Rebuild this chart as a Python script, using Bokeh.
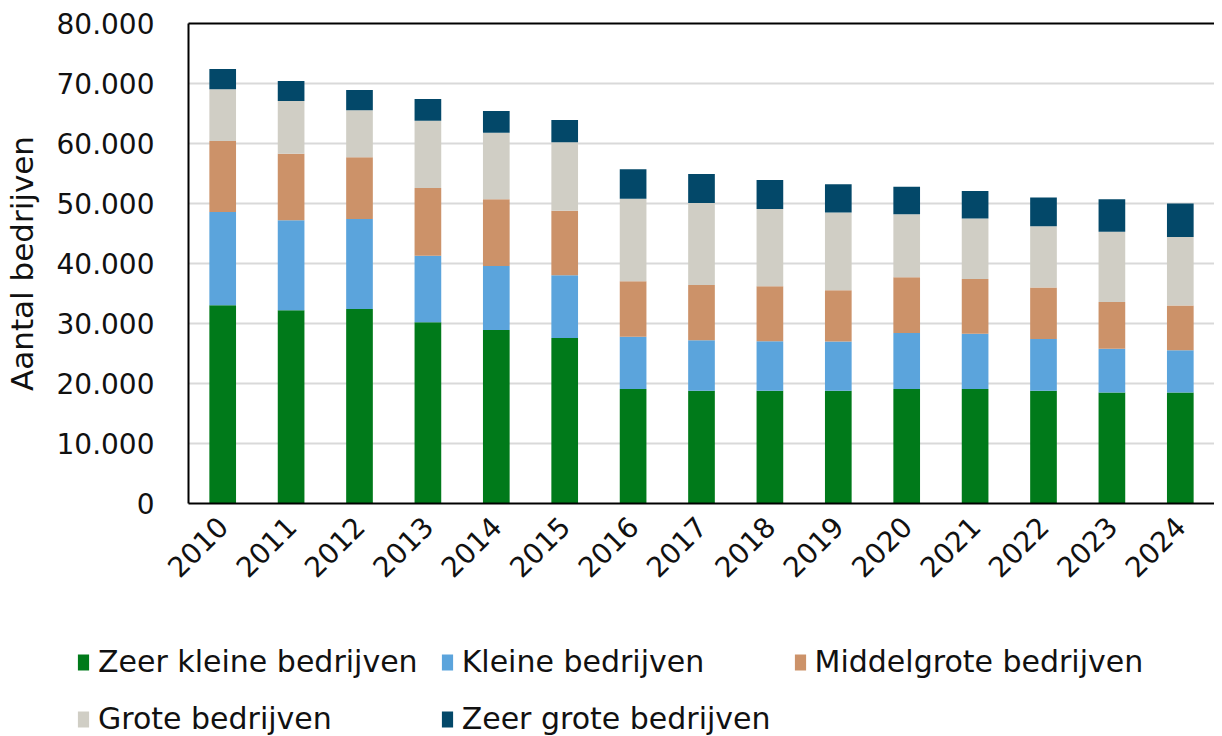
import math
from bokeh.plotting import figure
from bokeh.models import (ColumnDataSource, FactorRange, Range1d, Legend, LegendItem,
                          LinearAxis, CustomJSTickFormatter, FixedTicker)
from bokeh.embed import file_html
from bokeh.resources import INLINE

years = [str(y) for y in range(2010, 2025)]
zeer_klein = [33050, 32200, 32400, 30200, 28900, 27600, 19100, 18800, 18800, 18800, 19100, 19100, 18800, 18500, 18500]
klein = [15550, 15000, 15000, 11100, 10700, 10450, 8700, 8400, 8250, 8200, 9300, 9200, 8600, 7300, 7050]
middelgroot = [11800, 11100, 10300, 11300, 11100, 10750, 9250, 9200, 9150, 8550, 9300, 9100, 8600, 7800, 7450]
groot = [8650, 8800, 7850, 11200, 11100, 11400, 13750, 13700, 12900, 12950, 10500, 10100, 10200, 11700, 11400]
zeer_groot = [3350, 3300, 3350, 3600, 3600, 3700, 4900, 4800, 4800, 4700, 4600, 4600, 4800, 5400, 5600]

series = ["Zeer kleine bedrijven", "Kleine bedrijven", "Middelgrote bedrijven",
          "Grote bedrijven", "Zeer grote bedrijven"]
keys = ["zk", "k", "m", "g", "zg"]
colors = ["#007a1a", "#5ba4dc", "#cc9269", "#d0cec5", "#034869"]
y_ticks = [0, 10000, 20000, 30000, 40000, 50000, 60000, 70000, 80000]

src = ColumnDataSource(dict(year=years, zk=zeer_klein, k=klein, m=middelgroot, g=groot, zg=zeer_groot))

FONT = "DejaVu Sans"
TXT = "#111111"

p = figure(x_range=FactorRange(factors=years, range_padding=0), y_range=Range1d(0, 80000),
           width=1214, height=630, output_backend="svg", toolbar_location=None,
           min_border_left=182, min_border_right=0, min_border_top=23, min_border_bottom=127)
p.outline_line_color = None
p.background_fill_color = "white"

rs = p.vbar_stack(keys, x="year", width=0.39, color=colors, line_color=None, source=src)

p.xgrid.grid_line_color = None
p.ygrid.grid_line_color = "#d9d9d9"
p.ygrid.grid_line_width = 2

ya = p.yaxis[0]
ya.ticker = FixedTicker(ticks=y_ticks)
ya.formatter = CustomJSTickFormatter(code="return tick.toString().replace(/\\B(?=(\\d{3})+(?!\\d))/g, '.');")
ya.axis_label = "Aantal bedrijven"
ya.axis_label_text_font = FONT
ya.axis_label_text_font_size = "31px"
ya.axis_label_text_font_style = "normal"
ya.axis_label_text_color = TXT
ya.axis_label_standoff = 14
ya.major_label_text_font = FONT
ya.major_label_text_font_size = "28px"
ya.major_label_text_color = TXT
ya.major_label_standoff = 28
ya.major_tick_line_color = None
ya.minor_tick_line_color = None
ya.axis_line_color = "black"
ya.axis_line_width = 2

xa = p.xaxis[0]
xa.major_label_orientation = math.pi / 4
xa.major_label_text_font = FONT
xa.major_label_text_font_size = "28px"
xa.major_label_text_color = TXT
xa.major_label_standoff = 12
xa.major_tick_line_color = None
xa.axis_line_color = "black"
xa.axis_line_width = 2

top = LinearAxis(ticker=FixedTicker(ticks=[]), major_tick_line_color=None,
                 minor_tick_line_color=None, axis_line_color="black", axis_line_width=2,
                 major_label_standoff=0)
p.add_layout(top, "above")

# separate legend figure: swatches come from renderers whose single bar lies outside the view
lf = figure(width=1214, height=106, output_backend="svg", toolbar_location=None,
            x_range=Range1d(0, 1), y_range=Range1d(0, 1),
            x_axis_location=None, y_axis_location=None,
            min_border_left=0, min_border_right=0, min_border_top=0, min_border_bottom=0)
lf.grid.visible = False
lf.outline_line_color = None
dummies = [lf.vbar(x=[-5], top=[-5], bottom=[-6], width=0.1, color=c, line_color=None) for c in colors]

items = [LegendItem(label=s, renderers=[r]) for s, r in zip(series, dummies)]
legend = Legend(items=items, ncols=3, orientation="horizontal",
                location=(76, 0), padding=0, margin=0, spacing=22,
                glyph_width=14, glyph_height=20, label_standoff=8,
                label_text_font=FONT, label_text_font_size="30px", label_text_color=TXT,
                border_line_color=None, background_fill_alpha=0)
lf.add_layout(legend, "center")

open("out.html", "w").write(file_html([p, lf], INLINE))
